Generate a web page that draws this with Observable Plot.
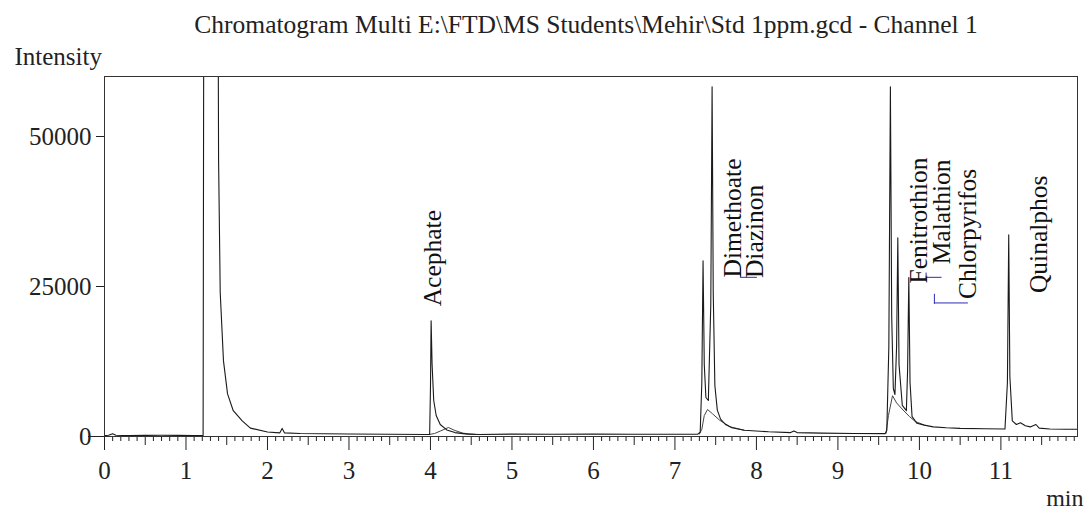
<!DOCTYPE html>
<html>
<head>
<meta charset="utf-8">
<script src="https://cdn.jsdelivr.net/npm/d3@7"></script>
<script src="https://cdn.jsdelivr.net/npm/@observablehq/plot@0.6"></script>
<style>
  body { margin: 0; background: #fff; font-family: "Liberation Serif", "Times New Roman", serif; overflow: hidden; }
  #wrap { width: 1086px; position: relative; }
  #title { height: 40px; position: relative; }
  #title span { position: absolute; left: 586px; top: 12px; transform: translateX(-50%);
    font-size: 25.5px; line-height: 25px; white-space: nowrap; color: #222; }
  #chart svg { display: block; }
</style>
</head>
<body>
<div id="wrap">
  <div id="title"><span id="titleText"></span></div>
  <div id="chart"></div>
</div>
<script>
const chartTitle = "Chromatogram Multi E:\\FTD\\MS Students\\Mehir\\Std 1ppm.gcd - Channel 1";
const yLabel = "Intensity";
const xLabel = "min";

// x tick values (minutes) and y tick values (intensity) with their labels
const xTicks = [0, 1, 2, 3, 4, 5, 6, 7, 8, 9, 10, 11];
const xTickLabels = ["0", "1", "2", "3", "4", "5", "6", "7", "8", "9", "10", "11"];
const yTicks = [0, 25000, 50000];
const yTickLabels = ["0", "25000", "50000"];

// main chromatogram trace
const traceTime = [0.00, 0.05, 0.10, 0.14, 0.30, 0.50, 0.70, 0.90, 1.10, 1.21, 1.22, 1.39, 1.40, 1.42, 1.46, 1.51, 1.58, 1.69, 1.79, 2.00,
  2.15, 2.18, 2.21, 2.40, 3.00, 3.50, 3.95, 3.99, 4.00, 4.008, 4.02, 4.04, 4.07, 4.12, 4.20, 4.30, 4.45, 4.60, 5.00, 5.50,
  6.00, 6.50, 7.00, 7.28, 7.31, 7.33, 7.345, 7.36, 7.38, 7.41, 7.44, 7.456, 7.47, 7.49, 7.52, 7.56, 7.62, 7.70, 7.85, 8.15,
  8.42, 8.46, 8.50, 8.80, 9.20, 9.58, 9.60, 9.625, 9.644, 9.66, 9.68, 9.70, 9.72, 9.735, 9.75, 9.79, 9.84, 9.855, 9.87, 9.885,
  9.91, 9.97, 10.06, 10.17, 10.33, 10.50, 10.80, 11.05, 11.08, 11.096, 11.11, 11.14, 11.19, 11.24, 11.30, 11.36, 11.43, 11.47, 11.60, 11.80, 11.94];
const traceIntensity = [150, 200, 450, 200, 150, 180, 200, 180, 150, 150, 90000, 90000, 46000, 24000, 12600, 7100, 4300, 2600, 1400, 750,
  600, 1350, 600, 500, 420, 380, 330, 350, 8000, 19300, 12000, 6000, 3500, 2000, 1100, 650, 400, 330, 400, 380,
  400, 380, 380, 400, 700, 9000, 29300, 12000, 6500, 6000, 22000, 58300, 24000, 8500, 4400, 2900, 2000, 1450, 1050, 780,
  650, 900, 650, 560, 500, 480, 1000, 15000, 58300, 20000, 8000, 7000, 15000, 33100, 12000, 5200, 4300, 11000, 26500, 9000,
  3300, 2200, 1900, 1600, 1450, 1350, 1300, 1250, 9000, 33600, 10000, 2600, 2000, 2300, 1800, 1600, 2000, 1400, 1250, 1200, 1200];

// second (overlaid) chromatogram, only where it separates from the first
const overlaySegment = ["a", "a", "a", "a", "a", "a", "a",
  "b", "b", "b", "b", "b", "b", "b", "b",
  "c", "c", "c", "c", "c", "c", "c", "c"];
const overlayTime = [3.99, 4.05, 4.12, 4.22, 4.30, 4.40, 4.55,
  7.30, 7.33, 7.36, 7.40, 7.46, 7.55, 7.68, 7.85,
  9.59, 9.62, 9.67, 9.72, 9.80, 9.88, 9.95, 10.06];
const overlayIntensity = [350, 500, 900, 1500, 1000, 550, 350,
  400, 1200, 3500, 4500, 3800, 2700, 1600, 1050,
  500, 3500, 6800, 5600, 4400, 3300, 2500, 1900];

// peak labels (time of label column, intensity where the label starts)
const peakNames = ["Acephate", "Dimethoate", "Diazinon", "Fenitrothion", "Malathion", "Chlorpyrifos", "Quinalphos"];
const peakLabelTime = [4.03, 7.71, 7.975, 9.99, 10.28, 10.595, 11.46];
const peakLabelIntensity = [21700, 26500, 26400, 25500, 28700, 22900, 23900];

// blue identification markers
const markerTime = [7.804, 10.082, 10.184];
const markerLow = [26530, 25860, 22040];
const markerHigh = [28070, 27240, 23700];
const markerLevel = [26530, 26530, 22260];
const markerEnd = [8.012, 10.278, 10.601];

document.getElementById("titleText").textContent = chartTitle;

const trace = traceTime.map((t, i) => ({t, v: traceIntensity[i]}));
const overlay = overlayTime.map((t, i) => ({t, v: overlayIntensity[i], s: overlaySegment[i]}));
const labels = peakNames.map((name, i) => ({name, t: peakLabelTime[i], v: peakLabelIntensity[i]}));
const markers = markerTime.map((t, i) => ({t, lo: markerLow[i], hi: markerHigh[i], lv: markerLevel[i], t2: markerEnd[i]}));
const xMajor = xTicks.map((t, i) => ({t, label: xTickLabels[i]}));
const yMajor = yTicks.map((v, i) => ({v, label: yTickLabels[i]}));

const minorTicks = d3.range(1, 120).map(d => d / 10).filter(d => Math.abs(d % 1) > 1e-6 && Math.abs(d % 1 - 0.5) > 1e-6 && d <= 11.94);
const halfTicks = xTicks.map(d => d + 0.5).filter(d => d <= 11.94);

const fontFamily = '"Liberation Serif", "Times New Roman", serif';
const ink = "#222";
const H = 473, MT = 36, MB = 77, FH = H - MT - MB;

const chart = Plot.plot({
  width: 1086,
  height: H,
  marginLeft: 104,
  marginRight: 9,
  marginTop: MT,
  marginBottom: MB,
  style: {fontFamily, fontSize: "24px", color: ink, background: "#fff", overflow: "visible"},
  x: {domain: [0, 11.94], axis: null},
  y: {domain: [0, 60000], axis: null},
  marks: [
    // x ticks below the axis
    Plot.ruleX(minorTicks, {x: d => d, insetTop: FH, insetBottom: -5, stroke: ink}),
    Plot.ruleX(halfTicks, {x: d => d, insetTop: FH, insetBottom: -9, stroke: ink}),
    Plot.ruleX(xMajor, {x: "t", insetTop: FH, insetBottom: -14, stroke: ink}),
    Plot.text(xMajor, {x: "t", frameAnchor: "bottom", text: "label", dy: 34, lineAnchor: "middle", fontSize: 25, fill: ink}),
    // y ticks left of the axis
    Plot.ruleY(yMajor, {y: "v", x1: 0, x2: 0, insetLeft: -8, stroke: ink}),
    Plot.ruleY([0], {y: d => d, x1: 0, x2: 0, insetLeft: -16, stroke: ink}),
    Plot.text(yMajor, {x: 0, y: "v", text: "label", dx: -13, textAnchor: "end", lineAnchor: "middle", fontSize: 25, fill: ink}),
    // traces
    Plot.line(overlay, {x: "t", y: "v", z: "s", stroke: "#444", strokeWidth: 1, clip: true}),
    Plot.line(trace, {x: "t", y: "v", stroke: "#1a1a1a", strokeWidth: 1.1, clip: true}),
    // identification markers and labels
    Plot.ruleX(markers, {x: "t", y1: "lo", y2: "hi", stroke: "#2b2bb5", strokeWidth: 1}),
    Plot.ruleY(markers, {y: "lv", x1: "t", x2: "t2", stroke: "#2b2bb5", strokeWidth: 1}),
    Plot.text(labels, {x: "t", y: "v", text: "name", rotate: -90, textAnchor: "start", lineAnchor: "middle", fontSize: 25.5, fill: "#111"}),
    Plot.frame({stroke: "#333"}),
    Plot.text([yLabel], {frameAnchor: "top-left", dx: -90, dy: -20, textAnchor: "start", lineAnchor: "middle", fontSize: 25, fill: ink}),
    Plot.text([xLabel], {frameAnchor: "bottom-right", dx: 6, dy: 62, textAnchor: "end", lineAnchor: "middle", fontSize: 24, fill: ink})
  ]
});
document.getElementById("chart").appendChild(chart);
</script>
</body>
</html>
